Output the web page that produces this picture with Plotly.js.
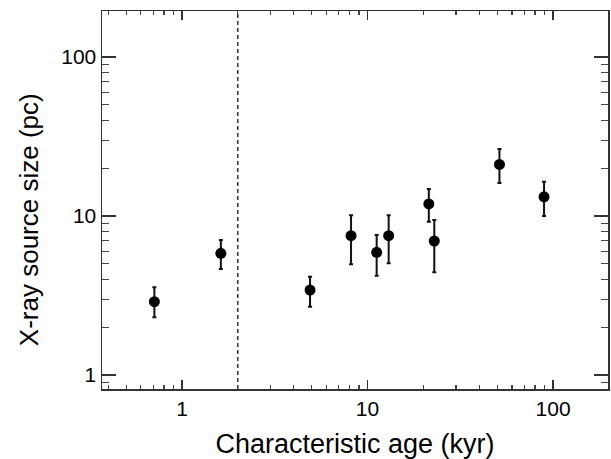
<!DOCTYPE html>
<html>
<head>
<meta charset="utf-8">
<script src="https://cdn.plot.ly/plotly-3.0.1.min.js"></script>
<style>
  html, body { margin: 0; padding: 0; background: #ffffff; }
  #chart { width: 611px; height: 459px; }
</style>
</head>
<body>
<div id="chart"></div>
<script>
// Characteristic age (kyr)
var ages = [0.71, 1.62, 4.9, 8.15, 11.2, 13.0, 21.4, 22.9, 51.4, 89.4];
// X-ray source size (pc)
var sizes = [2.89, 5.82, 3.42, 7.52, 5.91, 7.52, 11.9, 6.96, 21.1, 13.2];
// upper and lower ends of the error bars (pc)
var sizeHi = [3.56, 7.06, 4.15, 10.1, 7.6, 10.1, 14.8, 9.44, 26.4, 16.4];
var sizeLo = [2.31, 4.64, 2.69, 4.97, 4.21, 5.04, 9.2, 4.43, 16.1, 10.0];
// dividing age marked by the dashed line (kyr)
var dividerAge = 2;

var tickVals = [1, 10, 100];
var tickText = ['1', '10', '100'];

var xTitle = 'Characteristic age (kyr)';
var yTitle = 'X-ray source size (pc)';

var xRangeLog = [-0.431, 2.296];
var yRangeLog = [-0.088, 2.289];

var errPlus = sizes.map(function (v, i) { return sizeHi[i] - v; });
var errMinus = sizes.map(function (v, i) { return v - sizeLo[i]; });

var points = {
  x: ages,
  y: sizes,
  type: 'scatter',
  mode: 'markers',
  marker: { color: '#000000', size: 11 },
  error_y: {
    type: 'data',
    symmetric: false,
    array: errPlus,
    arrayminus: errMinus,
    color: '#111111',
    thickness: 2,
    width: 2
  },
  hoverinfo: 'skip',
  showlegend: false
};

var divider = {
  x: [dividerAge, dividerAge],
  y: [Math.pow(10, yRangeLog[0]), Math.pow(10, yRangeLog[1])],
  type: 'scatter',
  mode: 'lines',
  line: { color: '#000000', width: 1.2, dash: '4px,3px' },
  hoverinfo: 'skip',
  showlegend: false
};

var fontFamily = 'Liberation Sans, Arial, Helvetica, sans-serif';

var axisCommon = {
  type: 'log',
  showline: true,
  linecolor: '#333333',
  linewidth: 1.5,
  mirror: 'ticks',
  ticks: 'inside',
  ticklen: 12,
  tickwidth: 1.3,
  tickcolor: '#333333',
  showgrid: false,
  zeroline: false,
  tickmode: 'array',
  tickvals: tickVals,
  ticktext: tickText,
  tickfont: { family: fontFamily, size: 21, color: '#000000' }
};

var layout = {
  width: 611,
  height: 459,
  margin: { l: 102, r: 3, t: 11, b: 70 },
  paper_bgcolor: '#ffffff',
  plot_bgcolor: '#ffffff',
  font: { family: fontFamily, color: '#000000' },
  xaxis: Object.assign({}, axisCommon, {
    range: xRangeLog,
    ticklen: 9,
    minor: { ticks: 'inside', ticklen: 4, tickwidth: 1.2, tickcolor: '#444444', dtick: 'D1', showgrid: false },
    title: { text: xTitle, font: { family: fontFamily, size: 27, color: '#000000' }, standoff: 15 }
  }),
  yaxis: Object.assign({}, axisCommon, {
    range: yRangeLog,
    ticklen: 14,
    minor: { ticks: 'inside', ticklen: 7, tickwidth: 1.2, tickcolor: '#444444', dtick: 'D1', showgrid: false }
  }),
  annotations: [{
    text: yTitle,
    xref: 'paper', yref: 'paper',
    x: -0.144, y: 0.447,
    xanchor: 'center', yanchor: 'middle',
    textangle: -90,
    showarrow: false,
    font: { family: fontFamily, size: 26, color: '#000000' }
  }]
};

Plotly.newPlot('chart', [divider, points], layout, { staticPlot: true, displayModeBar: false });
</script>
</body>
</html>
